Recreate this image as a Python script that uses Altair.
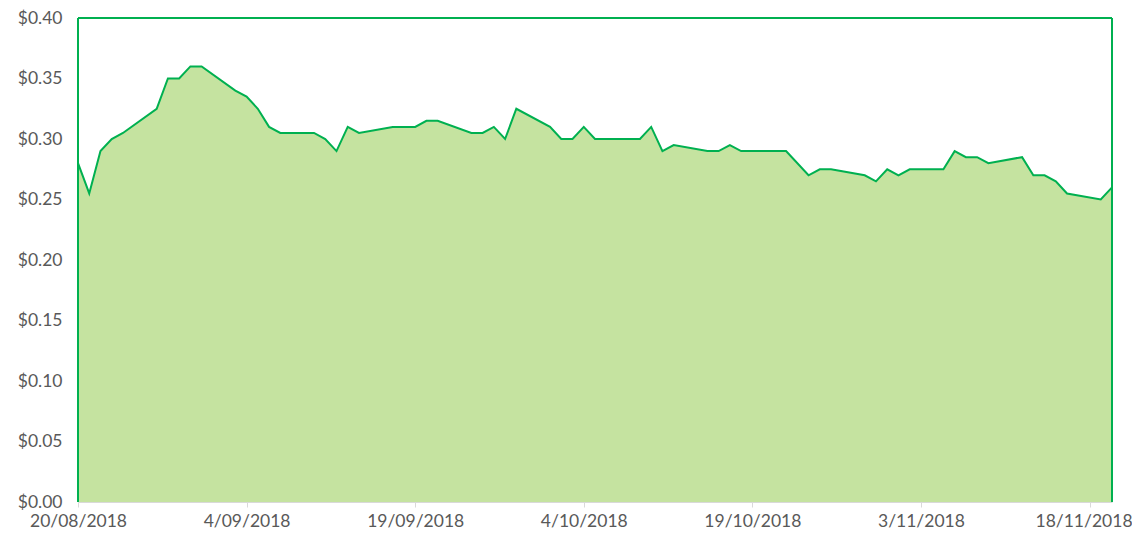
import altair as alt
import pandas as pd

dates = [
    "2018/08/20", "2018/08/21", "2018/08/22", "2018/08/23", "2018/08/24",
    "2018/08/27", "2018/08/28", "2018/08/29", "2018/08/30", "2018/08/31",
    "2018/09/03", "2018/09/04", "2018/09/05", "2018/09/06", "2018/09/07",
    "2018/09/10", "2018/09/11", "2018/09/12", "2018/09/13", "2018/09/14",
    "2018/09/17", "2018/09/19", "2018/09/20", "2018/09/21",
    "2018/09/24", "2018/09/25", "2018/09/26", "2018/09/27", "2018/09/28",
    "2018/10/01", "2018/10/02", "2018/10/03", "2018/10/04", "2018/10/05",
    "2018/10/09", "2018/10/10", "2018/10/11", "2018/10/12",
    "2018/10/15", "2018/10/16", "2018/10/17", "2018/10/18",
    "2018/10/22", "2018/10/24", "2018/10/25", "2018/10/26",
    "2018/10/29", "2018/10/30", "2018/10/31", "2018/11/01", "2018/11/02",
    "2018/11/05", "2018/11/06", "2018/11/07", "2018/11/08", "2018/11/09",
    "2018/11/12", "2018/11/13", "2018/11/14", "2018/11/15", "2018/11/16",
    "2018/11/19", "2018/11/20",
]
prices = [
    0.28, 0.255, 0.29, 0.30, 0.305,
    0.325, 0.35, 0.35, 0.36, 0.36,
    0.34, 0.335, 0.325, 0.31, 0.305,
    0.305, 0.30, 0.29, 0.31, 0.305,
    0.31, 0.31, 0.315, 0.315,
    0.305, 0.305, 0.31, 0.30, 0.325,
    0.31, 0.30, 0.30, 0.31, 0.30,
    0.30, 0.31, 0.29, 0.295,
    0.29, 0.29, 0.295, 0.29,
    0.29, 0.27, 0.275, 0.275,
    0.27, 0.265, 0.275, 0.27, 0.275,
    0.275, 0.29, 0.285, 0.285, 0.28,
    0.285, 0.27, 0.27, 0.265, 0.255,
    0.25, 0.26,
]
tick_dates = [(2018, 8, 20), (2018, 9, 4), (2018, 9, 19), (2018, 10, 4),
              (2018, 10, 19), (2018, 11, 3), (2018, 11, 18)]
y_ticks = [0.0, 0.05, 0.10, 0.15, 0.20, 0.25, 0.30, 0.35, 0.40]

df = pd.DataFrame({"date": dates, "price": prices})

W, H = 1034, 484
FILL = "#C5E3A0"
GREEN = "#00B050"
GREY_TXT = "#595959"
FONT = "Lato"
FS = 17.5

x_enc = alt.X(
    "date:T",
    scale=alt.Scale(domain=[alt.DateTime(year=2018, month=8, date=20),
                            alt.DateTime(year=2018, month=11, date=20)]),
    axis=alt.Axis(
        values=[alt.DateTime(year=y, month=m, date=d) for (y, m, d) in tick_dates],
        format="%-d/%m/%Y", title=None, grid=False,
        domainColor="#D9D9D9", domainWidth=1,
        tickColor="#D9D9D9", tickSize=5, labelPadding=5,
        labelColor=GREY_TXT, labelFont=FONT, labelFontSize=FS,
        labelAngle=0, labelOverlap=False, labelFlush=False,
        labelOffset={"condition": {"test": "datum.label == '18/11/2018'", "value": -6}, "value": 0},
    ),
)
y_enc = alt.Y(
    "price:Q",
    scale=alt.Scale(domain=[0, 0.4], nice=False),
    axis=alt.Axis(
        values=y_ticks, format="$.2f", title=None, grid=False,
        domain=False, ticks=False, labelPadding=16,
        labelColor=GREY_TXT, labelFont=FONT, labelFontSize=FS,
    ),
)

base = alt.Chart(df)
area = base.mark_area(color=FILL, opacity=1, interpolate="linear").encode(x=x_enc, y=y_enc)
line = base.mark_line(color=GREEN, strokeWidth=2, interpolate="linear").encode(x="date:T", y="price:Q")

left = alt.Chart(df).mark_rule(color=GREEN, strokeWidth=2).encode(
    x=alt.value(0), y=alt.value(0), y2=alt.value(H))
top = alt.Chart(df).mark_rule(color=GREEN, strokeWidth=2).encode(
    x=alt.value(0), x2=alt.value(W), y=alt.value(0))
right = alt.Chart(df).mark_rule(color=GREEN, strokeWidth=2).encode(
    x=alt.value(W), y=alt.value(0), y2=alt.value(H))

chart = alt.layer(area, line, left, top, right).properties(
    width=W, height=H,
    autosize=alt.AutoSizeParams(type="none"),
    padding={"left": 70, "top": 10, "right": 20, "bottom": 27},
).configure_view(stroke=None)

chart.save("out.html", embed_options={"renderer": "svg", "actions": False})
